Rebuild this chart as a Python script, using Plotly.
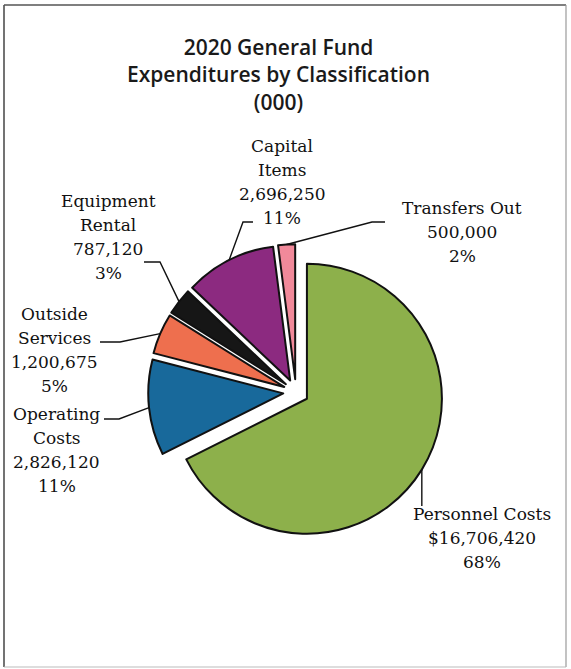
import math
import plotly.graph_objects as go

# 2020 General Fund expenditures by classification
categories = ["Personnel Costs", "Operating Costs", "Outside Services",
              "Equipment Rental", "Capital Items", "Transfers Out"]
amounts = [16706420, 2826120, 1200675, 787120, 2696250, 500000]
slice_colors = ["#8DB04B", "#18699B", "#EE6F4E", "#161616", "#8C2A80", "#F1899A"]
name_lines = [["Personnel Costs"], ["Operating", "Costs"], ["Outside", "Services"],
              ["Equipment", "Rental"], ["Capital", "Items"], ["Transfers Out"]]
value_prefix = ["$", "", "", "", "", ""]
title_lines = ["2020 General Fund", "Expenditures by Classification", "(000)"]

# page geometry (pixels)
W, H = 571, 669
CX, CY = 296, 392          # pie centre
R = 135                    # pie radius
PULL = 0.095               # every slice is exploded

def px(x):
    return x / W

def py(y):
    return 1 - y / H

box = 2 * R * (1 + PULL)
dom_x = [px(CX - box / 2), px(CX + box / 2)]
dom_y = [py(CY + box / 2), py(CY - box / 2)]

fig = go.Figure(go.Pie(
    labels=categories,
    values=amounts,
    sort=False,
    direction="clockwise",
    rotation=0,
    pull=[PULL] * len(amounts),
    marker=dict(colors=slice_colors, line=dict(color="#111111", width=2)),
    textinfo="none",
    hoverinfo="label+value+percent",
    showlegend=False,
    domain=dict(x=dom_x, y=dom_y),
))

# callout placement: text centre x, first-line y, line step, leader bend points
callouts = [
    dict(x=482, y=514, step=24, bends=[("a", 506)]),
    dict(x=57, y=414, step=24, bends=[(119, 419), (104, 419)]),
    dict(x=55, y=314, step=24, bends=[(120, 342), (100, 342)]),
    dict(x=108, y=201, step=24, bends=[(160, 262), (144, 262)]),
    dict(x=282, y=146, step=24, bends=[(243, 222), (253, 222)]),
    dict(x=462, y=208, step=24, bends=[(372, 222), (385, 222)]),
]

total = sum(amounts)
cum = 0.0
annotations = []
shapes = []
label_font = dict(family="DejaVu Serif", size=17, color="#111111")
for i, v in enumerate(amounts):
    frac = v / total
    mid = (cum + frac / 2) * 2 * math.pi      # clockwise from 12 o'clock
    cum += frac
    ux, uy = math.sin(mid), -math.cos(mid)
    ax = CX + R * (1 + PULL) * ux
    ay = CY + R * (1 + PULL) * uy

    c = callouts[i]
    lines = name_lines[i] + [f"{value_prefix[i]}{v:,}", f"{round(frac * 100)}%"]
    for k, t in enumerate(lines):
        annotations.append(dict(
            x=px(c["x"]), y=py(c["y"] + k * c["step"]), xref="paper", yref="paper",
            text=t, showarrow=False, font=label_font,
            xanchor="center", yanchor="middle",
        ))

    pts = [(ax, ay)]
    for bx, by in c["bends"]:
        pts.append((ax if bx == "a" else bx, by))
    path = "M " + " L ".join(f"{px(x):.5f},{py(y):.5f}" for x, y in pts)
    shapes.append(dict(type="path", path=path, xref="paper", yref="paper",
                       line=dict(color="#111111", width=1.4)))

# three-line chart title
annotations.append(dict(
    x=px(278), y=py(74), xref="paper", yref="paper",
    text="<br>".join(title_lines), showarrow=False,
    font=dict(family="Open Sans", size=21, color="#1a1a1a", weight=600),
    xanchor="center", yanchor="middle", align="center",
))

# chart frame
shapes += [
    dict(type="line", xref="paper", yref="paper", x0=px(4), y0=py(5), x1=px(4), y1=py(667),
         line=dict(color="#444444", width=1.5)),
    dict(type="line", xref="paper", yref="paper", x0=px(4), y0=py(5), x1=px(566), y1=py(5),
         line=dict(color="#555555", width=1.3)),
    dict(type="line", xref="paper", yref="paper", x0=px(566), y0=py(5), x1=px(566), y1=py(667),
         line=dict(color="#9a9a9a", width=1.2)),
    dict(type="line", xref="paper", yref="paper", x0=px(4), y0=py(667), x1=px(566), y1=py(667),
         line=dict(color="#bbbbbb", width=1)),
]

fig.update_layout(
    width=W, height=H,
    margin=dict(l=0, r=0, t=0, b=0),
    paper_bgcolor="white", plot_bgcolor="white",
    annotations=annotations,
    shapes=shapes,
)

fig.write_html("out.html")
